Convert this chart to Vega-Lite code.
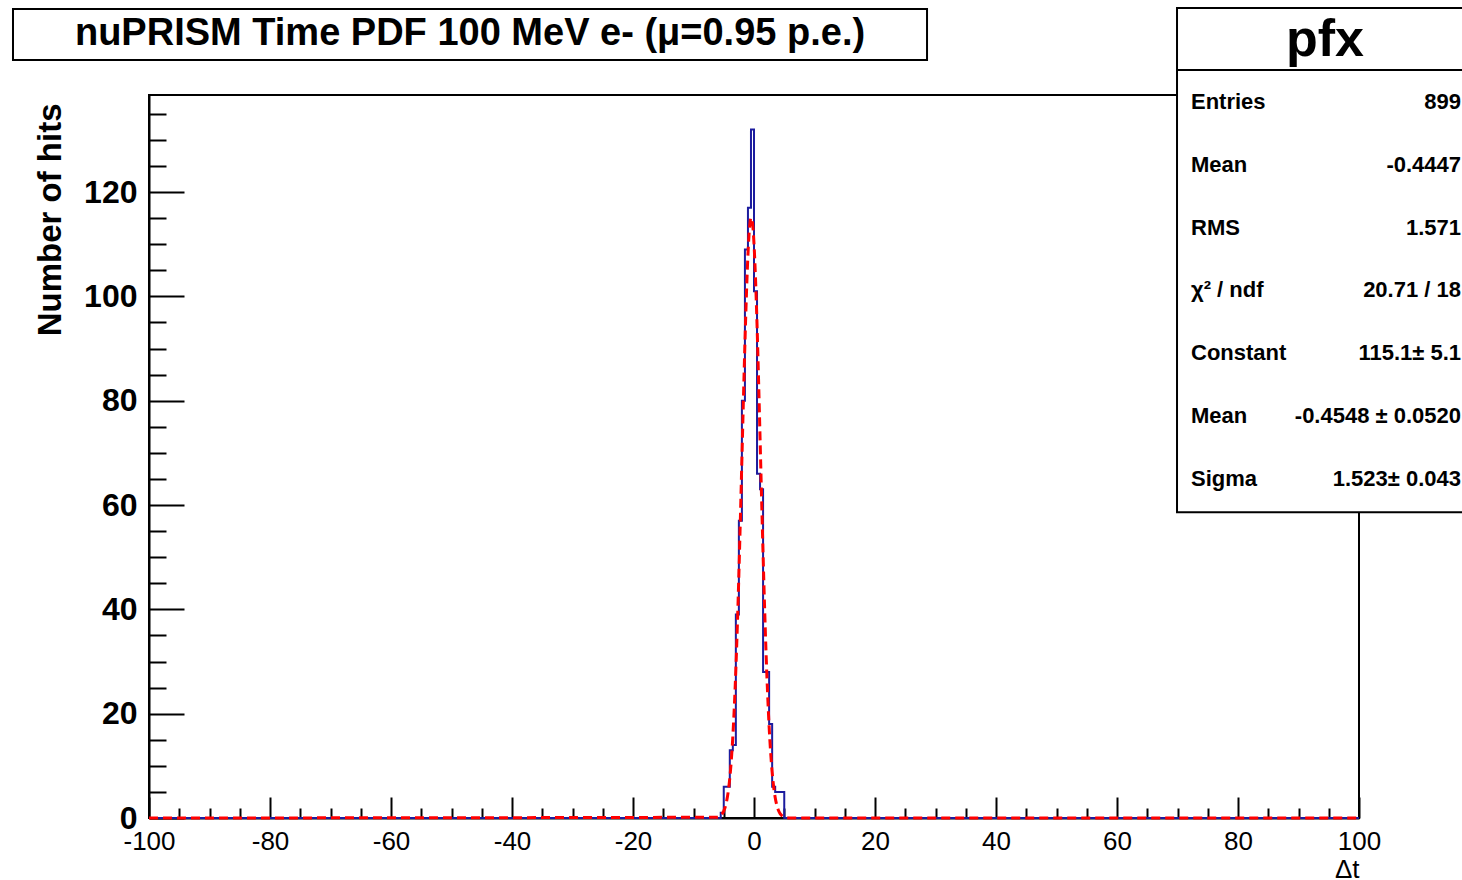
{
  "$schema": "https://vega.github.io/schema/vega-lite/v6.json",
  "width": 1210,
  "height": 723,
  "autosize": {"type": "none"},
  "padding": {"left": 149, "top": 95, "right": 103, "bottom": 62},
  "background": "white",
  "config": {"font": "Liberation Sans", "view": {"stroke": "black", "strokeWidth": 2}},
  "datasets": {
    "hist": [
      {"t": -100, "hits": 0}, {"t": -5.5, "hits": 1}, {"t": -5, "hits": 6}, {"t": -4.5, "hits": 6},
      {"t": -4, "hits": 13}, {"t": -3.5, "hits": 14}, {"t": -3, "hits": 39}, {"t": -2.5, "hits": 57},
      {"t": -2, "hits": 80}, {"t": -1.5, "hits": 109}, {"t": -1, "hits": 117}, {"t": -0.5, "hits": 132},
      {"t": 0, "hits": 101}, {"t": 0.5, "hits": 66}, {"t": 1, "hits": 63}, {"t": 1.5, "hits": 28},
      {"t": 2, "hits": 28}, {"t": 2.5, "hits": 18}, {"t": 3, "hits": 6}, {"t": 3.5, "hits": 5},
      {"t": 4, "hits": 5}, {"t": 4.5, "hits": 5}, {"t": 5, "hits": 0}, {"t": 100, "hits": 0}
    ],
    "fit": [
      {"t": -100, "f": 0}, {"t": -6, "f": 0.15}, {"t": -5.5, "f": 0.48}, {"t": -5, "f": 1.34},
      {"t": -4.75, "f": 2.16}, {"t": -4.5, "f": 3.38}, {"t": -4.25, "f": 5.16}, {"t": -4, "f": 7.67},
      {"t": -3.75, "f": 11.08}, {"t": -3.5, "f": 15.6}, {"t": -3.25, "f": 21.36}, {"t": -3, "f": 28.5},
      {"t": -2.75, "f": 36.97}, {"t": -2.5, "f": 46.7}, {"t": -2.25, "f": 57.5}, {"t": -2, "f": 68.8},
      {"t": -1.75, "f": 80.2}, {"t": -1.5, "f": 91.0}, {"t": -1.25, "f": 100.4}, {"t": -1, "f": 108.0},
      {"t": -0.75, "f": 112.96}, {"t": -0.5, "f": 115.05}, {"t": -0.25, "f": 114.06}, {"t": 0, "f": 110.1},
      {"t": 0.25, "f": 103.4}, {"t": 0.5, "f": 94.6}, {"t": 0.75, "f": 84.2}, {"t": 1, "f": 72.9},
      {"t": 1.25, "f": 61.5}, {"t": 1.5, "f": 50.5}, {"t": 1.75, "f": 40.4}, {"t": 2, "f": 31.4},
      {"t": 2.25, "f": 23.8}, {"t": 2.5, "f": 17.5}, {"t": 2.75, "f": 12.6}, {"t": 3, "f": 8.78},
      {"t": 3.25, "f": 5.97}, {"t": 3.5, "f": 3.95}, {"t": 3.75, "f": 2.55}, {"t": 4, "f": 1.6},
      {"t": 4.25, "f": 0.97}, {"t": 4.5, "f": 0.58}, {"t": 4.75, "f": 0.33}, {"t": 5, "f": 0.19},
      {"t": 5.5, "f": 0.06}, {"t": 6, "f": 0.02}, {"t": 100, "f": 0}
    ],
    "stats": [
      {"row": 0, "name": "Entries", "value": "899"},
      {"row": 1, "name": "Mean", "value": "-0.4447"},
      {"row": 2, "name": "RMS", "value": "1.571"},
      {"row": 3, "name": "χ² / ndf", "value": "20.71 / 18"},
      {"row": 4, "name": "Constant", "value": "115.1± 5.1"},
      {"row": 5, "name": "Mean", "value": "-0.4548 ± 0.0520"},
      {"row": 6, "name": "Sigma", "value": "1.523± 0.043"}
    ],
    "one": [{}]
  },
  "resolve": {"scale": {"y": "independent"}, "axis": {"x": "independent", "y": "independent"}},
  "layer": [
    {
      "data": {"name": "hist"},
      "mark": {"type": "line", "interpolate": "step-after", "color": "#1c1c9e", "strokeWidth": 2},
      "encoding": {
        "x": {"field": "t", "type": "quantitative",
          "scale": {"domain": [-100, 100], "nice": false, "zero": false},
          "axis": {"orient": "bottom", "values": [-100, -80, -60, -40, -20, 0, 20, 40, 60, 80, 100],
            "labelExpr": "datum.value + ''",
            "grid": false, "tickSize": -21, "tickWidth": 2, "tickColor": "black",
            "domainColor": "black", "domainWidth": 2,
            "labelFontSize": 26, "labelColor": "black", "labelPadding": 31,
            "labelFlush": false, "labelOverlap": false,
            "title": "Δt", "titleAnchor": "end", "titleAlign": "right", "titleFontSize": 26,
            "titleFontWeight": "normal", "titleColor": "black", "titlePadding": 2}},
        "y": {"field": "hits", "type": "quantitative",
          "scale": {"domain": [0, 138.6], "nice": false, "zero": false},
          "axis": {"orient": "left", "values": [0, 20, 40, 60, 80, 100, 120],
            "grid": false, "tickSize": -35, "tickWidth": 2, "tickColor": "black",
            "domainColor": "black", "domainWidth": 2,
            "labelFontSize": 32, "labelFontWeight": "bold", "labelColor": "black", "labelPadding": 47,
            "labelFlush": false, "labelOverlap": false,
            "title": "Number of hits", "titleAnchor": "end", "titleFontSize": 33, "titleY": 8,
            "titleFontWeight": "bold", "titleColor": "black", "titlePadding": 16}}
      }
    },
    {
      "data": {"name": "fit"},
      "mark": {"type": "line", "interpolate": "monotone", "color": "#ff0000", "strokeWidth": 3, "strokeDash": [9, 5]},
      "encoding": {
        "x": {"field": "t", "type": "quantitative",
          "scale": {"domain": [-100, 100], "nice": false, "zero": false},
          "axis": {"orient": "bottom", "values": [-95, -90, -85, -75, -70, -65, -55, -50, -45, -35, -30, -25, -15, -10, -5, 5, 10, 15, 25, 30, 35, 45, 50, 55, 65, 70, 75, 85, 90, 95],
            "grid": false, "domain": false, "labels": false, "title": null,
            "tickSize": -10, "tickWidth": 2, "tickColor": "black"}},
        "y": {"field": "f", "type": "quantitative",
          "scale": {"domain": [0, 138.6], "nice": false, "zero": false},
          "axis": {"orient": "left", "values": [5, 10, 15, 25, 30, 35, 45, 50, 55, 65, 70, 75, 85, 90, 95, 105, 110, 115, 125, 130, 135],
            "grid": false, "domain": false, "labels": false, "title": null,
            "tickSize": -17, "tickWidth": 2, "tickColor": "black"}}
      }
    },
    {
      "data": {"name": "one"},
      "mark": {"type": "rect", "fill": "white", "stroke": "black", "strokeWidth": 2},
      "encoding": {
        "x": {"datum": 69.92, "type": "quantitative", "scale": {"domain": [-100, 100], "nice": false, "zero": false}, "axis": null},
        "x2": {"datum": 125},
        "y": {"datum": -1.497, "type": "quantitative", "scale": {"domain": [-0.1115, 11.4], "reverse": true, "nice": false, "zero": false}, "axis": null},
        "y2": {"datum": 6.53}
      }
    },
    {
      "data": {"name": "one"},
      "mark": {"type": "rule", "stroke": "black", "strokeWidth": 2},
      "encoding": {
        "x": {"datum": 69.92, "type": "quantitative", "scale": {"domain": [-100, 100], "nice": false, "zero": false}, "axis": null},
        "x2": {"datum": 125},
        "y": {"datum": -0.51, "type": "quantitative", "scale": {"domain": [-0.1115, 11.4], "reverse": true, "nice": false, "zero": false}, "axis": null}
      }
    },
    {
      "data": {"name": "one"},
      "mark": {"type": "text", "text": "pfx", "fontSize": 52, "fontWeight": "bold", "align": "center", "baseline": "middle", "color": "black"},
      "encoding": {
        "x": {"datum": 94.38, "type": "quantitative", "scale": {"domain": [-100, 100], "nice": false, "zero": false}, "axis": null},
        "y": {"datum": -0.98, "type": "quantitative", "scale": {"domain": [-0.1115, 11.4], "reverse": true, "nice": false, "zero": false}, "axis": null}
      }
    },
    {
      "data": {"name": "stats"},
      "mark": {"type": "text", "fontSize": 22, "fontWeight": "bold", "align": "left", "baseline": "middle", "color": "black"},
      "encoding": {
        "x": {"datum": 72.23, "type": "quantitative", "scale": {"domain": [-100, 100], "nice": false, "zero": false}, "axis": null},
        "y": {"field": "row", "type": "quantitative", "scale": {"domain": [-0.1115, 11.4], "reverse": true, "nice": false, "zero": false}, "axis": null},
        "text": {"field": "name"}
      }
    },
    {
      "data": {"name": "stats"},
      "mark": {"type": "text", "fontSize": 22, "fontWeight": "bold", "align": "right", "baseline": "middle", "color": "black"},
      "encoding": {
        "x": {"datum": 116.86, "type": "quantitative", "scale": {"domain": [-100, 100], "nice": false, "zero": false}, "axis": null},
        "y": {"field": "row", "type": "quantitative", "scale": {"domain": [-0.1115, 11.4], "reverse": true, "nice": false, "zero": false}, "axis": null},
        "text": {"field": "value"}
      }
    },
    {
      "data": {"name": "one"},
      "mark": {"type": "rect", "fill": "white", "stroke": "black", "strokeWidth": 2},
      "encoding": {
        "x": {"datum": -122.48, "type": "quantitative", "scale": {"domain": [-100, 100], "nice": false, "zero": false}, "axis": null},
        "x2": {"datum": 28.6},
        "y": {"datum": -1.48, "type": "quantitative", "scale": {"domain": [-0.1115, 11.4], "reverse": true, "nice": false, "zero": false}, "axis": null},
        "y2": {"datum": -0.669}
      }
    },
    {
      "data": {"name": "one"},
      "mark": {"type": "text", "text": "nuPRISM Time PDF 100 MeV e- (μ=0.95 p.e.)", "fontSize": 38, "fontWeight": "bold", "align": "center", "baseline": "middle", "color": "black"},
      "encoding": {
        "x": {"datum": -46.94, "type": "quantitative", "scale": {"domain": [-100, 100], "nice": false, "zero": false}, "axis": null},
        "y": {"datum": -1.08, "type": "quantitative", "scale": {"domain": [-0.1115, 11.4], "reverse": true, "nice": false, "zero": false}, "axis": null}
      }
    }
  ]
}
